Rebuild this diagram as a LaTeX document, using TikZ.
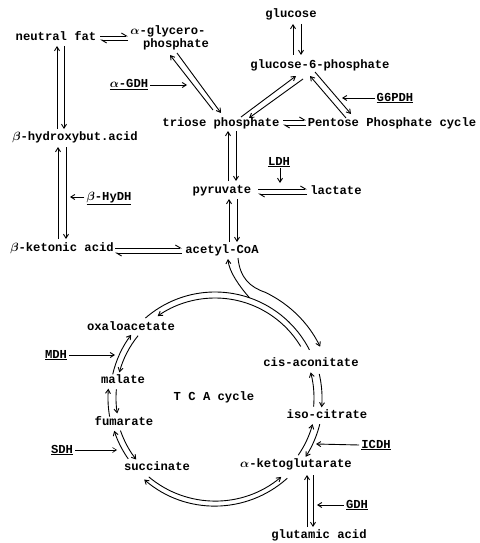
\documentclass[tikz,border=0pt]{standalone}
\usepackage{fontspec}
\setmainfont{Liberation Mono}
\usetikzlibrary{arrows.meta,calc}
\tikzset{
  lbl/.style={font=\bfseries\boldmath\fontsize{12.2}{14}\selectfont, inner sep=0pt, text height=8.5pt, text depth=2.5pt, anchor=center},
  arr/.style={line width=0.9pt, -{Straight Barb[length=4pt,width=5pt]}},
  harp/.style={line width=0.9pt, -{Straight Barb[left,length=5pt,width=6pt]}},
  plain/.style={line width=0.9pt},
  thinarr/.style={line width=0.6pt, -{Straight Barb[length=4pt,width=5pt]}}
}
\begin{document}
\begin{tikzpicture}[x=1pt,y=-1pt]
\useasboundingbox (0,0) rectangle (479,543);
% nodes
\node[lbl] (nf) at (56,38) {neutral fat};
\node[lbl] (agp1) at (168,32) {\(\alpha\)-glycero-};
\node[lbl] (agp2) at (176,45) {phosphate};
\node[lbl] (glc) at (291,15) {glucose};
\node[lbl] (g6p) at (320,65) {glucose-6-phosphate};
\node[lbl] (agdh) at (129,85) {\underline{\(\alpha\)-GDH}};
\node[lbl] (g6pdh) at (395,98) {\underline{G6PDH}};
\node[lbl] (tp) at (221,123) {triose phosphate};
\node[lbl] (ppc) at (392,123) {Pentose Phosphate cycle};
\node[lbl] (bhb) at (75,137) {\(\beta\)-hydroxybut.acid};
\node[lbl] (ldh) at (279,162) {\underline{LDH}};
\node[lbl] (pyr) at (222,190) {pyruvate};
\node[lbl] (lac) at (336,191) {lactate};
\node[lbl] (bhydh) at (109,197) {\underline{\(\beta\)-HyDH}};
\node[lbl] (bka) at (62,248) {\(\beta\)-ketonic acid};
\node[lbl] (aca) at (222,250) {acetyl-CoA};
\node[lbl] (oaa) at (131,327) {oxaloacetate};
\node[lbl] (mdh) at (56,355) {\underline{MDH}};
\node[lbl] (mal) at (123,380) {malate};
\node[lbl] (tca) at (214,397) {T C A cycle};
\node[lbl] (cis) at (311,363) {cis-aconitate};
\node[lbl] (iso) at (327,415) {iso-citrate};
\node[lbl] (fum) at (124,422) {fumarate};
\node[lbl] (icdh) at (376,445) {\underline{ICDH}};
\node[lbl] (sdh) at (62,450) {\underline{SDH}};
\node[lbl] (akg) at (296,464) {\(\alpha\)-ketoglutarate};
\node[lbl] (suc) at (157,467) {succinate};
\node[lbl] (gdh) at (357,505) {\underline{GDH}};
\node[lbl] (glu) at (319,535) {glutamic acid};

% upper connectors
\draw[arr] ($(bhb)+(-18,-8)$) -- ($(nf)+(1,8)$);
\draw[arr] ($(nf)+(8,8)$) -- ($(bhb)+(-11,-8)$);
\draw[arr] ($(bka)+(-4,-9)$) -- ($(bhb)+(-17,10)$);
\draw[arr] ($(bhb)+(-9,10)$) -- ($(bka)+(4,-9)$);
\draw[arr] ($(bhydh.west)+(-2,0)$) -- ($(bhydh)+(-39,0)$);
\draw[harp] ($(nf)+(44,-2)$) -- ($(agp1)+(-40,4)$);
\draw[harp] ($(agp1)+(-40,8)$) -- ($(nf)+(44,2)$);
\draw[arr] ($(g6p)+(-27,-10)$) -- ($(glc)+(2,9)$);
\draw[arr] ($(glc)+(10,9)$) -- ($(g6p)+(-19,-10)$);
\draw[arr] ($(tp)+(-8,-13)$) -- ($(agp2)+(-6,10)$);
\draw[arr] ($(agp2)+(1,8)$) -- ($(tp)+(0,-10)$);
\draw[arr] ($(agdh.east)+(2,0)$) -- ($(agdh)+(58,0)$);
\draw[arr] ($(tp)+(20,-6)$) -- ($(g6p)+(-24,11)$);
\draw[arr] ($(g6p)+(-17,14)$) -- ($(tp)+(28,-5)$);
\draw[arr] ($(ppc)+(-46,-5)$) -- ($(g6p)+(-10,11)$);
\draw[arr] ($(g6p)+(-5,7)$) -- ($(ppc)+(-41,-9)$);
\draw[arr] ($(g6pdh.west)+(-2,0)$) -- ($(g6pdh)+(-53,0)$);
\draw[harp] ($(tp)+(62,-3)$) -- ($(ppc)+(-86,-3)$);
\draw[harp] ($(ppc)+(-86,2)$) -- ($(tp)+(62,2)$);
\draw[arr] ($(pyr)+(6,-9)$) -- ($(tp)+(7,8)$);
\draw[arr] ($(tp)+(15,8)$) -- ($(pyr)+(14,-9)$);
\draw[arr] ($(ldh)+(1,6)$) -- ($(ldh)+(1,21)$);
\draw[harp] ($(pyr)+(36,-1)$) -- ($(lac)+(-29,-2)$);
\draw[harp] ($(lac)+(-29,3)$) -- ($(pyr)+(36,4)$);
\draw[arr] ($(aca)+(7,-8)$) -- ($(pyr)+(7,9)$);
\draw[arr] ($(pyr)+(15,9)$) -- ($(aca)+(15,-8)$);
\draw[harp] ($(bka)+(53,0)$) -- ($(aca)+(-40,-2)$);
\draw[harp] ($(aca)+(-40,3)$) -- ($(bka)+(53,5)$);

% enzyme arrows in the cycle
\draw[arr] ($(mdh.east)+(2,0)$) -- ($(mdh)+(59,0)$);
\draw[thinarr] ($(sdh.east)+(2,0)$) -- ($(sdh)+(55,0)$);
\draw[arr] ($(icdh.west)+(-2,0)$) -- ($(icdh)+(-60,-1)$);
\draw[arr] ($(gdh.west)+(-2,0)$) -- ($(gdh)+(-40,0)$);
\draw[arr] ($(glu)+(-12,-8)$) -- ($(akg)+(11,11)$);
\draw[arr] ($(akg)+(17,11)$) -- ($(glu)+(-6,-8)$);

% TCA cycle arcs
\begin{scope}[shift={($(tca)+(1,1)$)}, x=1pt, y=1pt]
\draw[arr] (31:100) arc[start angle=31, end angle=125, radius=100];
\draw[plain] (131:106) arc[start angle=131, end angle=27, radius=106];
\draw[arr] ([xshift=16,yshift=-8]aca.center) .. controls ([xshift=18,yshift=-28]aca.center) and ([xshift=28,yshift=-37]aca.center) .. (64.7:117) arc[start angle=64.7, end angle=26, radius=117];
\draw[arr] (71:106) .. controls ([xshift=18,yshift=-37]aca.center) and ([xshift=7,yshift=-22]aca.center) .. ([xshift=6,yshift=-9]aca.center);
\draw[arr] (167:105) arc[start angle=167, end angle=143, radius=105];
\draw[arr] (141:99) arc[start angle=141, end angle=165, radius=99];
\draw[arr] (190:107) arc[start angle=190, end angle=175, radius=107];
\draw[arr] (175:99) arc[start angle=175, end angle=189, radius=99];
\draw[arr] (215:106) arc[start angle=215, end angle=198, radius=106];
\draw[arr] (199:100) arc[start angle=199, end angle=218, radius=100];
\draw[arr] (230:103) arc[start angle=230, end angle=310, radius=103];
\draw[arr] (312:108) arc[start angle=312, end angle=229, radius=108];
\draw[arr] (-5:99) arc[start angle=-5, end angle=15, radius=99];
\draw[arr] (13:107) arc[start angle=13, end angle=-5, radius=107];
\draw[arr] (-34.5:101) arc[start angle=-34.5, end angle=-15, radius=101];
\draw[arr] (-14:108) arc[start angle=-14, end angle=-33, radius=108];
\end{scope}
\end{tikzpicture}
\end{document}
